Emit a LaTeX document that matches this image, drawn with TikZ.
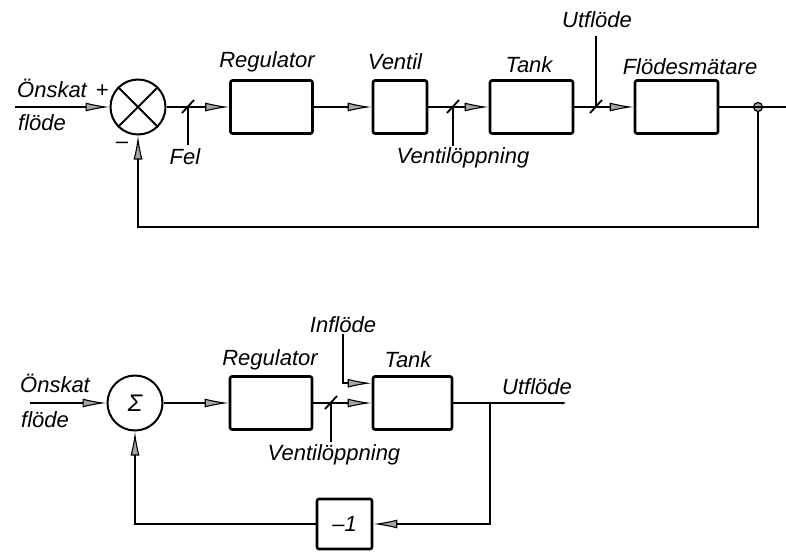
\documentclass[tikz,border=0pt]{standalone}
\usepackage{fontspec}
\setmainfont{Liberation Sans}
\usepackage{tikz}
\usetikzlibrary{arrows.meta, shapes.geometric, positioning, calc}

\tikzset{
    block/.style={draw, line width=2.6pt, rounded corners=2pt, minimum width=82pt, minimum height=53pt, inner sep=0pt},
    sumnode/.style={draw, circle, line width=2pt, minimum size=55pt, inner sep=0pt},
    lbl/.style={font=\fontsize{22}{24}\selectfont\itshape, inner sep=1pt},
    sig/.style={line width=1.8pt},
    flow/.style={sig, -{Latex[length=24pt, width=9pt, fill=gray!70, line width=1.1pt]}},
    dot/.style={circle, draw, fill=gray!70, line width=1.2pt, minimum size=9pt, inner sep=0pt},
}
\newcommand{\sigtick}[1]{\draw[sig] ($(#1)+(-6,6)$) -- ($(#1)+(6,-7)$);}

\begin{document}
\begin{tikzpicture}[x=1pt, y=-1pt]

        \useasboundingbox (0,0) rectangle (786,551);

        % upper loop
        \node[sumnode] (mix) at (138,107) {};
        \draw[line width=2pt] (mix.north west) -- (mix.south east) (mix.north east) -- (mix.south west);
        \node[block] (reg1) at (271.5,107) {};
        \node[block, minimum width=54pt] (valve) at (400,107) {};
        \node[block, minimum width=83pt] (tank1) at (531.5,107) {};
        \node[block, minimum width=83pt] (meter) at (676.5,107) {};
        \node[dot] (branch1) at (758,107) {};

        \node[lbl] (ref1a) at (52,88) {Önskat};
        \node[lbl] (ref1b) at (42,123) {flöde};
        \node[lbl] (plus) at (102,91) {+};
        \node[lbl] (minus) at (122,145) {\textendash};
        \node[lbl] (reg1lbl) at (267,62) {Regulator};
        \node[lbl] (valvelbl) at (395,62) {Ventil};
        \node[lbl] (tank1lbl) at (529,65) {Tank};
        \node[lbl] (meterlbl) at (690,67) {Flödesmätare};
        \node[lbl] (fellbl) at (185,157) {Fel};
        \node[lbl] (vo1lbl) at (463,158) {Ventilöppning};
        \node[lbl] (out1lbl) at (597,20) {Utflöde};

        \coordinate (in1) at (15,107);
        \coordinate (out1) at (786,107);
        \coordinate (fel) at (188,107);
        \coordinate (felend) at (188,145);
        \coordinate (vo1) at (453,107);
        \coordinate (vo1end) at (453,146);
        \coordinate (uf1) at (596,107);
        \coordinate (uf1end) at (596,36);
        \coordinate (fb1) at (758,227);

        \draw[flow] (in1) -- (mix);
        \draw[flow] (mix) -- (reg1);
        \draw[flow] (reg1) -- (valve);
        \draw[flow] (valve) -- (tank1);
        \draw[flow] (tank1) -- (meter);
        \draw[sig] (meter) -- (out1);
        \draw[flow] (branch1) -- (fb1) -| (mix.south);

        \draw[sig] (fel) -- (felend);
        \draw[sig] (vo1) -- (vo1end);
        \draw[sig] (uf1) -- (uf1end);
        \sigtick{fel}
        \sigtick{vo1}
        \sigtick{uf1}

        % lower loop
        \node[sumnode] (sum) at (135,403) {\fontsize{24}{26}\selectfont\itshape Σ};
        \node[block] (reg2) at (271,403) {};
        \node[block, minimum width=79pt] (tank2) at (412.5,403) {};
        \node[block, minimum width=55pt, minimum height=50pt] (neg) at (344.5,524) {\fontsize{22}{24}\selectfont\itshape \textendash 1};

        \node[lbl] (ref2a) at (55,383) {Önskat};
        \node[lbl] (ref2b) at (45,420) {flöde};
        \node[lbl] (reg2lbl) at (270,360) {Regulator};
        \node[lbl] (tank2lbl) at (408,360) {Tank};
        \node[lbl] (inflow) at (343,325) {Inflöde};
        \node[lbl] (vo2lbl) at (334,455) {Ventilöppning};
        \node[lbl] (out2lbl) at (537,387) {Utflöde};

        \coordinate (in2) at (30,403);
        \coordinate (out2) at (567,403);
        \coordinate (vo2) at (331,403);
        \coordinate (vo2end) at (331,442);
        \coordinate (br2) at (490,403);

        \draw[flow] (in2) -- (sum);
        \draw[flow] (sum) -- (reg2);
        \draw[flow] (reg2) -- (tank2);
        \draw[flow] (inflow.south) |- ($(tank2.north west)+(0,8)$);
        \draw[sig, -{Latex[length=5pt, width=3pt]}] (tank2) -- (out2);
        \draw[flow] (br2) |- (neg);
        \draw[flow] (neg) -| (sum.south);

        \draw[sig] (vo2) -- (vo2end);
        \sigtick{vo2}

    \end{tikzpicture}
\end{document}
